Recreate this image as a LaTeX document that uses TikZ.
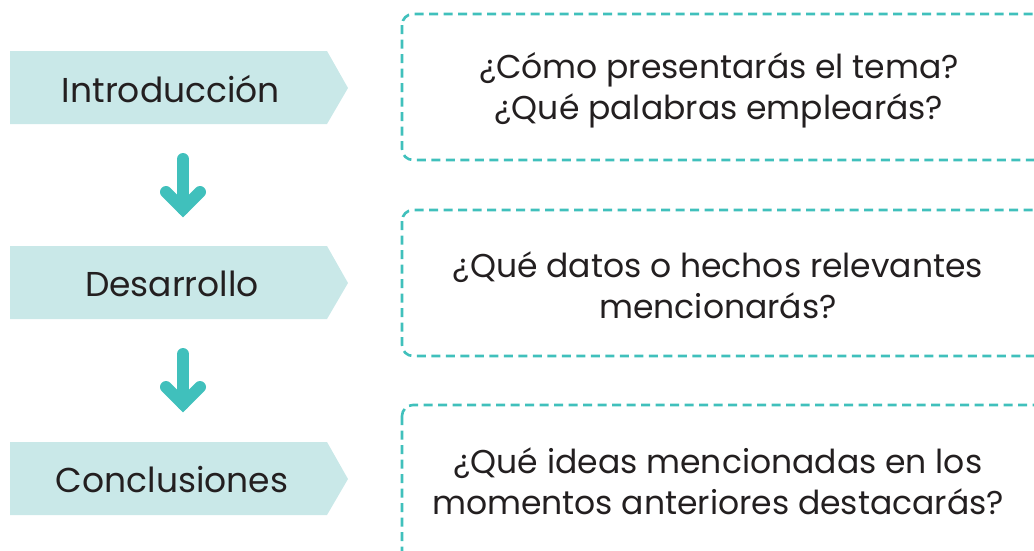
\documentclass[tikz,border=0pt]{standalone}
\usepackage{fontspec}
\setmainfont{Poppins}
\definecolor{chev}{HTML}{C9E8E8}
\definecolor{tealc}{HTML}{40C0BC}
\definecolor{txt}{HTML}{231F20}
\tikzset{
  chevfill/.style={fill=chev},
  lab/.style={font=\fontsize{34.5}{40}\selectfont, text=txt, inner sep=0pt},
  qtxt/.style={font=\fontsize{33}{41}\selectfont, text=txt, align=center, inner sep=0pt},
  dbox/.style={draw=tealc, line width=2.6pt, dash pattern=on 9pt off 5.5pt, rounded corners=11pt},
  shaft/.style={draw=tealc, line width=12pt, line cap=round},
  headw/.style={draw=tealc, line width=12pt, line cap=round, line join=miter},
}
\begin{document}
\begin{tikzpicture}[x=1pt,y=-1pt]
\useasboundingbox (0,0) rectangle (1034,550);
\clip (0,0) rectangle (1034,550);
% chevrons
\fill[chevfill] (10,51) -- (327,51) -- (348,88) -- (327,124) -- (10,124) -- cycle;
\fill[chevfill] (10,246) -- (327,246) -- (348,283) -- (327,319) -- (10,319) -- cycle;
\fill[chevfill] (10,442) -- (327,442) -- (348,479) -- (327,515) -- (10,515) -- cycle;
\node[lab] (intro) at (171,89) {Introducción};
\node[lab] (desa) at (172,284) {Desarrollo};
\node[lab] (conc) at (172,480) {Conclusiones};
% arrows
\coordinate (a1s) at (183,159);
\coordinate (a1t) at (183,209);
\coordinate (a2s) at (183,354);
\coordinate (a2t) at (183,404);
\draw[shaft] (a1s) -- (a1t);
\draw[headw] ([xshift=-17pt,yshift=17pt]a1t) -- (a1t) -- ([xshift=17pt,yshift=17pt]a1t);
\draw[shaft] (a2s) -- (a2t);
\draw[headw] ([xshift=-17pt,yshift=17pt]a2t) -- (a2t) -- ([xshift=17pt,yshift=17pt]a2t);
% dashed boxes
\draw[dbox] (402,14) rectangle (1048,160);
\draw[dbox] (402,210) rectangle (1048,356);
\draw[dbox] (402,405) rectangle (1048,570);
\node[qtxt] (q1) at (719,90) {¿Cómo presentarás el tema?\\¿Qué palabras emplearás?};
\node[qtxt] (q2) at (718,285) {¿Qué datos o hechos relevantes\\mencionarás?};
\node[qtxt] (q3) at (718,481) {¿Qué ideas mencionadas en los\\momentos anteriores destacarás?};
\end{tikzpicture}
\end{document}
